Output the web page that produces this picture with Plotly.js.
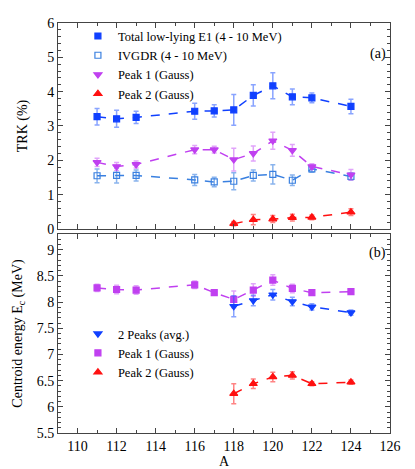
<!DOCTYPE html>
<html><head><meta charset="utf-8">
<script src="https://cdn.plot.ly/plotly-3.0.1.min.js"></script>
<style>body{margin:0;background:#fff}#plot{width:415px;height:469px}</style>
</head><body><div id="plot"></div>
<script>
// ---- data (top panel: TRK %) ----
const A_all = [111, 112, 113, 116, 117, 118, 119, 120, 121, 122, 124];
const totalE1 = [3.27, 3.21, 3.25, 3.43, 3.44, 3.47, 3.89, 4.17, 3.85, 3.82, 3.57];
const totalE1Err = [0.24, 0.25, 0.18, 0.23, 0.18, 0.45, 0.31, 0.38, 0.23, 0.14, 0.21];
const ivgdr = [1.55, 1.56, 1.56, 1.43, 1.37, 1.39, 1.56, 1.59, 1.42, 1.75, 1.53];
const ivgdrErr = [0.2, 0.22, 0.16, 0.16, 0.14, 0.25, 0.16, 0.28, 0.15, 0.1, 0.1];
const peak1TRK = [1.94, 1.82, 1.88, 2.31, 2.31, 2.02, 2.2, 2.57, 2.29, 1.82, 1.58];
const peak1TRKErr = [0.12, 0.12, 0.1, 0.12, 0.1, 0.33, 0.22, 0.25, 0.17, 0.08, 0.15];
const A_p2 = [118, 119, 120, 121, 122, 124];
const peak2TRK = [0.155, 0.27, 0.29, 0.33, 0.34, 0.49];
const peak2TRKErr = [0.06, 0.15, 0.1, 0.1, 0.07, 0.1];
// ---- data (bottom panel: centroid energy MeV) ----
const peak1E = [8.27, 8.24, 8.23, 8.33, 8.18, 8.05, 8.23, 8.42, 8.26, 8.18, 8.2];
const peak1EErr = [0.07, 0.08, 0.08, 0.07, 0.04, 0.16, 0.12, 0.1, 0.08, 0.05, 0.04];
const avgE = [7.92, 8.03, 8.14, 8.01, 7.91, 7.8];
const avgEErr = [0.2, 0.1, 0.1, 0.08, 0.06, 0.05];
const peak2E = [6.25, 6.44, 6.57, 6.6, 6.44, 6.47];
const peak2EErr = [0.19, 0.09, 0.09, 0.07, 0.04, 0.04];

const FONT = '"Liberation Serif", "Times New Roman", serif';
const cBlue = '#1040ff', cLBlue = '#3a80e0', cViolet = '#c040f0', cRed = '#ff1010';

function tr(x, y, err, color, errColor, symbol, size, xa, ya, legend) {
  return {
    x: x, y: y, xaxis: xa, yaxis: ya, legend: legend,
    mode: 'lines+markers', type: 'scatter', showlegend: false,
    line: {color: color, dash: 'dash', width: 1.5},
    marker: {color: color, symbol: symbol, size: size, line: {color: color, width: 1.2}},
    error_y: {type: 'data', array: err, color: errColor, thickness: 1.5, width: 2.5}
  };
}
function leg(color, symbol, size, name, legend) {
  const top = legend === 'legend';
  return {x: [null], y: [null], xaxis: top ? 'x' : 'x2', yaxis: top ? 'y' : 'y2',
    mode: 'markers', type: 'scatter', name: name, legend: legend, showlegend: true,
    marker: {color: color, symbol: symbol, size: size, line: {color: color, width: 1.2}}};
}

const data = [
  tr(A_all, totalE1, totalE1Err, cBlue, 'rgba(40,90,255,0.55)', 'square', 6, 'x', 'y', 'legend'),
  tr(A_all, ivgdr, ivgdrErr, cLBlue, 'rgba(60,130,225,0.6)', 'square-open', 6, 'x', 'y', 'legend'),
  tr(A_all, peak1TRK, peak1TRKErr, cViolet, 'rgba(200,90,245,0.55)', 'triangle-down', 7, 'x', 'y', 'legend'),
  tr(A_p2, peak2TRK, peak2TRKErr, cRed, 'rgba(255,50,50,0.6)', 'triangle-up', 7, 'x', 'y', 'legend'),
  tr(A_all, peak1E, peak1EErr, cViolet, 'rgba(200,90,245,0.55)', 'square', 6, 'x2', 'y2', 'legend2'),
  tr(A_p2, avgE, avgEErr, cBlue, 'rgba(40,90,255,0.55)', 'triangle-down', 7, 'x2', 'y2', 'legend2'),
  tr(A_p2, peak2E, peak2EErr, cRed, 'rgba(255,50,50,0.6)', 'triangle-up', 7, 'x2', 'y2', 'legend2'),
  leg(cBlue, 'square', 6, 'Total low-lying E1 (4 - 10 MeV)', 'legend'),
  leg(cLBlue, 'square-open', 6, 'IVGDR (4 - 10 MeV)', 'legend'),
  leg(cViolet, 'triangle-down', 7, 'Peak 1 (Gauss)', 'legend'),
  leg(cRed, 'triangle-up', 7, 'Peak 2 (Gauss)', 'legend'),
  leg(cBlue, 'triangle-down', 7, '2 Peaks (avg.)', 'legend2'),
  leg(cViolet, 'square', 6, 'Peak 1 (Gauss)', 'legend2'),
  leg(cRed, 'triangle-up', 7, 'Peak 2 (Gauss)', 'legend2')
];

const axBase = {
  showline: true, mirror: 'allticks', linecolor: '#444', linewidth: 1, showgrid: false, zeroline: false,
  ticks: 'inside', ticklen: 5, tickcolor: '#444', tickwidth: 1,
  tickfont: {family: FONT, size: 14, color: '#000'}
};
const layout = {
  width: 415, height: 469, paper_bgcolor: '#fff', plot_bgcolor: '#fff',
  margin: {l: 58, r: 25, t: 23, b: 36},
  font: {family: FONT, color: '#000'},
  xaxis: Object.assign({}, axBase, {anchor: 'y', range: [109, 126], dtick: 2, showticklabels: false,
    minor: {ticks: 'inside', ticklen: 3, dtick: 1, tickcolor: '#444'}}),
  yaxis: Object.assign({}, axBase, {domain: [0.4976, 1], range: [0, 6], dtick: 1,
    minor: {ticks: 'inside', ticklen: 3, dtick: 0.2, tickcolor: '#444'},
    title: {text: 'TRK (%)', font: {family: FONT, size: 14}, standoff: 16}}),
  xaxis2: Object.assign({}, axBase, {anchor: 'y2', range: [109, 126], dtick: 2,
    minor: {ticks: 'inside', ticklen: 3, dtick: 1, tickcolor: '#444'},
    title: {text: 'A', font: {family: FONT, size: 14}, standoff: 4}}),
  yaxis2: Object.assign({}, axBase, {domain: [0, 0.4854], range: [5.5, 9.3], dtick: 0.5,
    minor: {ticks: 'inside', ticklen: 3, dtick: 0.1, tickcolor: '#444'},
    title: {text: 'Centroid energy E<sub>c</sub> (MeV)', font: {family: FONT, size: 14}, standoff: 10}}),
  legend: {x: 0.06, y: 1.004, xanchor: 'left', yanchor: 'top', bgcolor: 'rgba(0,0,0,0)',
    font: {family: FONT, size: 12.5}, itemwidth: 30, tracegroupgap: 0},
  legend2: {x: 0.06, y: 0.278, xanchor: 'left', yanchor: 'top', bgcolor: 'rgba(0,0,0,0)',
    font: {family: FONT, size: 12.5}, itemwidth: 30, tracegroupgap: 0},
  annotations: [
    {text: '(a)', xref: 'paper', yref: 'paper', x: 0.995, y: 0.925, xanchor: 'right', yanchor: 'middle', showarrow: false, font: {family: FONT, size: 14}},
    {text: '(b)', xref: 'paper', yref: 'paper', x: 0.995, y: 0.44, xanchor: 'right', yanchor: 'middle', showarrow: false, font: {family: FONT, size: 14}}
  ]
};
Plotly.newPlot('plot', data, layout, {displayModeBar: false, staticPlot: true});
</script></body></html>
